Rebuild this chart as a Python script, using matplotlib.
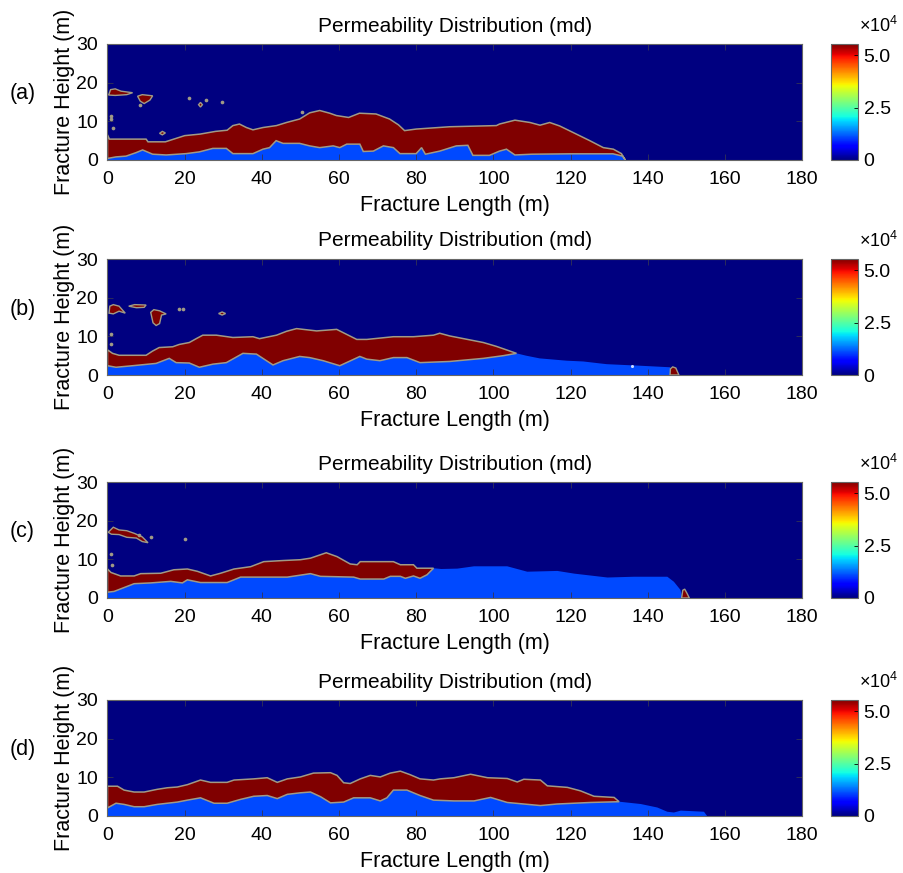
import numpy as np
import matplotlib
matplotlib.use('Agg')
import matplotlib.pyplot as plt
from matplotlib import cm, colors

plt.rcParams['font.family'] = ['Liberation Sans', 'DejaVu Sans']
plt.rcParams['mathtext.fontset'] = 'custom'
plt.rcParams['mathtext.rm'] = 'Liberation Sans'

# ---------------- data (m, md) ----------------
K_MAX = 5.55e4          # colour-scale top
K_PROP = 5.55e4         # proppant pack permeability (dark red)
K_LOW = 1.1e4           # settled bank permeability (light blue)
CB_TICKS = [0, 2.5e4, 5.0e4]
CB_LABELS = ['0', '2.5', '5.0']
X_TICKS = [0, 20, 40, 60, 80, 100, 120, 140, 160, 180]
Y_TICKS = [0, 10, 20, 30]
PANEL_LABELS = ['(a)', '(b)', '(c)', '(d)']

# panel (a)
a_top_x = [0, 0.5, 10, 10.5, 15, 17.8, 20, 24, 28, 31, 32.5, 34.2, 36, 37.7, 40.3, 43.8, 46.4, 49.8, 52.4, 55,
           57.6, 59.3, 62.5, 65.3, 69.6, 73.1, 75.4, 77, 80, 88.7, 100.8, 101.6, 105.6, 109.5, 112.1, 114.6,
           117.2, 120.7, 125, 128.5, 131.1, 133.2, 134.2]
a_top_y = [6.5, 5.4, 5.4, 4.7, 4.7, 5.6, 6.3, 6.7, 7.4, 7.7, 8.9, 9.3, 8.4, 7.8, 8.4, 8.9, 9.7, 10.6, 12.2, 12.8,
           12.1, 11.5, 11.0, 12.1, 11.9, 10.6, 9.1, 7.6, 8.0, 8.6, 8.9, 9.3, 10.3, 9.7, 9.0, 9.7,
           8.8, 7.1, 5.0, 3.2, 2.8, 1.65, 0.0]
a_bot_x = [0, 2.2, 4.8, 7.4, 9.1, 11.7, 15.2, 20.4, 23.8, 27.3, 30.8, 32.5, 37.7, 40.3, 42, 43.7, 45.5, 49.8,
           52.4, 55, 58.5, 60.2, 62, 65.4, 66.3, 68.9, 71.5, 74.1, 75.8, 80, 81.4, 82.4, 86.1, 90.4, 93.4,
           94.7, 99, 101.6, 103.4, 105.6, 110, 120, 131, 133.5, 134.2]
a_bot_y = [0.4, 0.8, 1.0, 1.9, 2.6, 1.5, 1.3, 1.65, 2.1, 3.0, 3.0, 1.65, 1.65, 2.8, 3.2, 5.0, 4.3, 4.3,
           3.65, 3.2, 3.65, 3.2, 4.1, 4.1, 2.2, 2.3, 3.65, 3.2, 1.65, 1.65, 3.2, 1.5, 2.3, 3.65, 3.8,
           1.2, 1.2, 2.3, 2.8, 1.3, 1.5, 1.6, 1.6, 1.0, 0.0]
a_tail_x = [134.2]
a_tail_y = [0.0]
a_blobs_x = [[0.3, 0.8, 2.0, 3.5, 6.5, 5.0, 2.0], [7.8, 9.0, 11.7, 11.0, 9.5, 8.5],
             [13.5, 14.2, 15.0, 14.2], [23.6, 24.1, 24.6, 24.1]]
a_blobs_y = [[16.8, 18.2, 18.4, 17.8, 17.4, 16.9, 16.7], [16.5, 16.9, 16.6, 15.5, 14.6, 15.2],
             [6.9, 7.4, 7.0, 6.5], [14.3, 14.9, 14.3, 13.7]]
a_dots_x = [21.0, 25.6, 29.7, 0.9, 0.9, 1.4, 50.5, 8.4]
a_dots_y = [16.0, 15.6, 15.0, 10.6, 11.4, 8.4, 12.5, 14.1]

# panel (b)
b_top_x = [0, 1.3, 3, 10, 11.7, 13.4, 16.9, 18.6, 21.2, 23, 24.7, 28.2, 32.5, 37.7, 39.4, 43.8, 46.4, 49,
           54.2, 59.4, 62, 64.6, 67.2, 74.1, 79.3, 84.5, 86.1, 88.7, 97.4, 100.8, 103.4, 106]
b_top_y = [6.5, 5.6, 5.1, 5.1, 6.2, 7.1, 7.3, 7.9, 8.4, 9.4, 10.3, 10.3, 9.7, 9.9, 9.4, 10.3, 11.3, 12.0,
           11.4, 11.8, 10.5, 9.2, 9.2, 9.9, 9.9, 10.3, 10.8, 10.1, 8.4, 7.4, 6.5, 5.6]
b_bot_x = [0, 2.2, 6.5, 12.6, 16, 17.8, 21.2, 23.8, 27.3, 30.8, 35.1, 38.6, 41.2, 42.9, 45.5, 49.8, 52.4,
           55.9, 60.2, 65.4, 67.2, 70.6, 74.1, 77.6, 81, 88.7, 97.4, 102.6, 106]
b_bot_y = [2.4, 2.0, 2.4, 3.0, 4.3, 3.2, 3.1, 2.0, 2.8, 3.2, 5.6, 5.4, 3.7, 2.6, 3.7, 4.8, 4.5,
           3.7, 2.4, 4.8, 4.1, 3.7, 4.5, 4.5, 3.2, 3.5, 4.3, 5.0, 5.6]
b_tail_x = [108.5, 112, 119, 123.3, 127.6, 129.4, 138, 145.8, 146.0]
b_tail_y = [5.0, 4.3, 3.7, 3.5, 3.0, 2.8, 2.4, 2.0, 0.0]
b_blobs_x = [[0.4, 0.6, 1.5, 3.0, 4.6, 3.0, 1.5], [5.5, 7.0, 10.0, 9.5, 7.5],
             [11.2, 12.0, 13.5, 15.2, 14.0, 13.5, 12.6, 11.8], [28.8, 29.7, 30.6, 29.7],
             [145.8, 145.9, 146.5, 147.3, 148.1]]
b_blobs_y = [[16.0, 17.8, 18.2, 17.8, 16.0, 16.5, 15.8], [17.8, 18.2, 18.1, 17.5, 17.4],
             [16.2, 16.9, 16.6, 15.8, 15.5, 13.3, 12.8, 13.5], [15.9, 16.3, 15.9, 15.5],
             [0.0, 1.6, 2.1, 1.8, 0.0]]
b_dots_x = [18.5, 19.5, 0.9, 1.0]
b_dots_y = [17.1, 17.1, 10.5, 7.9]
b_white_x = [136.0]
b_white_y = [2.4]

# panel (c)
c_top_x = [0, 0.9, 3.4, 6.9, 8.6, 13.8, 17.2, 20.7, 23.3, 26.7, 29.3, 32.8, 37.1, 40.5, 45.7, 50, 52.6, 56.7,
           59.5, 62.9, 64.7, 65.5, 74.1, 75.9, 79.3, 80.2, 84.5]
c_top_y = [7.5, 6.6, 5.7, 5.7, 6.3, 6.4, 7.3, 7.5, 6.9, 5.7, 6.4, 7.5, 8.1, 9.4, 9.7, 9.9, 10.3, 11.7,
           10.7, 8.8, 8.6, 9.4, 9.4, 8.6, 8.6, 7.7, 7.7]
c_bot_x = [0, 1.7, 6.9, 11.2, 16.4, 19.4, 20.7, 24.1, 31, 34.5, 46.6, 52.6, 55.2, 63.8, 65.5, 71.6, 73.3,
           75.9, 77.2, 79.3, 81, 82.8, 84.5]
c_bot_y = [1.5, 1.7, 3.7, 3.9, 4.3, 3.9, 4.7, 4.0, 4.0, 5.4, 5.4, 6.3, 5.6, 5.4, 4.9, 4.9, 5.6,
           5.6, 5.1, 5.7, 5.1, 6.0, 7.7]
c_tail_x = [86.5, 90.7, 95, 103.6, 108.8, 116.6, 121, 129.6, 136.5, 145.1, 146.8, 148.5, 149.0]
c_tail_y = [7.5, 7.6, 8.2, 8.2, 6.8, 7.0, 6.3, 5.3, 5.5, 5.5, 4.2, 2.1, 0.0]
c_blobs_x = [[0.2, 1.5, 3.0, 5.0, 7.0, 9.0, 10.5, 9.0, 7.5, 5.0, 3.0, 1.0],
             [148.8, 149.1, 149.6, 150.2, 150.8]]
c_blobs_y = [[17.0, 18.3, 17.6, 17.4, 16.7, 15.8, 14.3, 14.6, 15.5, 15.7, 16.4, 16.5],
             [0.0, 2.0, 2.3, 1.2, 0.0]]
c_dots_x = [8.2, 11.2, 20.0, 1.0, 1.2]
c_dots_y = [16.4, 15.9, 15.2, 11.4, 8.5]

# panel (d)
d_top_x = [0, 2.6, 4.3, 6.9, 9.5, 12.9, 15.5, 18.1, 20.7, 24.1, 26.7, 31, 32.8, 37.9, 41.4, 44, 46.6, 50,
           53.4, 57.8, 59.5, 61.2, 62.9, 65.5, 68.1, 70.7, 73.3, 75.9, 78.4, 81, 84.5, 86.2, 89.8, 94.1,
           98.5, 103.6, 106.2, 107.9, 112.2, 114, 119.2, 122.6, 126.1, 131.3, 132.6]
d_top_y = [7.7, 7.7, 6.7, 6.2, 6.2, 6.9, 7.3, 7.5, 8.1, 9.3, 8.7, 8.7, 9.3, 9.6, 9.9, 8.7, 9.6, 10.1,
           11.1, 11.2, 10.5, 8.6, 8.4, 9.6, 10.5, 10.1, 11.1, 11.6, 10.7, 9.6, 9.3, 9.6, 9.9, 10.8,
           9.9, 9.7, 8.8, 9.5, 9.3, 7.8, 7.4, 6.5, 5.1, 4.8, 3.7]
d_bot_x = [0, 2.2, 4.3, 6.9, 9.5, 12.9, 18.1, 20.7, 24.1, 27.6, 31, 34.5, 37.9, 41.4, 44, 46.6, 50, 52.6,
           55.2, 57.8, 61.2, 63.8, 68.1, 70.7, 72.4, 74.1, 77.6, 81, 84.5, 89.8, 95, 99.3, 103.6, 112.2,
           116.5, 125.2, 132.6]
d_bot_y = [2.1, 3.3, 3.0, 2.4, 2.4, 3.0, 3.6, 4.1, 4.7, 3.3, 3.3, 4.3, 5.1, 5.3, 4.5, 5.6, 6.0, 6.2,
           5.0, 3.4, 3.6, 4.7, 4.7, 3.9, 4.7, 6.7, 6.7, 5.3, 4.1, 3.9, 3.9, 4.8, 3.5, 2.7,
           3.1, 3.5, 3.7]
d_tail_x = [138.2, 142.5, 145.1, 146.8, 148.6, 154.6, 155.4]
d_tail_y = [3.1, 2.2, 1.1, 0.9, 1.4, 1.1, 0.0]
d_blobs_x = []
d_blobs_y = []
d_dots_x = []
d_dots_y = []

# ---------------- drawing ----------------
W, H = 904, 873
fig = plt.figure(figsize=(W / 100, H / 100), dpi=100)
cmap = plt.get_cmap('jet')
norm = colors.Normalize(vmin=0, vmax=K_MAX)
EDGE = '#a09a86'

panels = [
    (a_top_x, a_top_y, a_bot_x, a_bot_y, a_tail_x, a_tail_y, a_blobs_x, a_blobs_y, a_dots_x, a_dots_y),
    (b_top_x, b_top_y, b_bot_x, b_bot_y, b_tail_x, b_tail_y, b_blobs_x, b_blobs_y, b_dots_x, b_dots_y),
    (c_top_x, c_top_y, c_bot_x, c_bot_y, c_tail_x, c_tail_y, c_blobs_x, c_blobs_y, c_dots_x, c_dots_y),
    (d_top_x, d_top_y, d_bot_x, d_bot_y, d_tail_x, d_tail_y, d_blobs_x, d_blobs_y, d_dots_x, d_dots_y),
]
tops = [44, 259, 482, 700]
AX_L, AX_W, AX_H = 107.5, 694.5, 116
CB_L, CB_W = 831, 27

for i, (tx, ty, bx, by, lx, ly, blx, bly, dx, dy) in enumerate(panels):
    top = tops[i]
    ax = fig.add_axes([AX_L / W, 1 - (top + AX_H) / H, AX_W / W, AX_H / H])
    cax = fig.add_axes([CB_L / W, 1 - (top + AX_H) / H, CB_W / W, AX_H / H])
    ax.set_facecolor(cmap(norm(0)))

    # light-blue settled bank: ground line, lower pack boundary, then tail
    blue_x = [0] + list(bx) + list(lx)
    blue_y = [0] + list(by) + list(ly)
    ax.fill(blue_x, blue_y, color=cmap(norm(K_LOW)), lw=0, zorder=1)
    # proppant pack
    red_x = list(tx) + list(bx)[::-1]
    red_y = list(ty) + list(by)[::-1]
    ax.fill(red_x, red_y, facecolor=cmap(norm(K_PROP)), edgecolor=EDGE, lw=1.1, zorder=2)
    for bxs, bys in zip(blx, bly):
        ax.fill(bxs, bys, facecolor=cmap(norm(K_PROP)), edgecolor=EDGE, lw=1.0, zorder=3)
    if len(dx):
        ax.scatter(dx, dy, s=7, color=EDGE, lw=0, zorder=4)
    if i == 1:
        ax.scatter(b_white_x, b_white_y, s=5, color='#c8d8ff', lw=0, zorder=4)

    ax.set_xlim(0, 180)
    ax.set_ylim(0, 30)
    ax.set_xticks(X_TICKS)
    ax.set_yticks(Y_TICKS)
    ax.tick_params(direction='in', top=True, right=True, length=4, width=0.6,
                   color='#333355', labelsize=14)
    ax.tick_params(axis='x', pad=8)
    ax.tick_params(axis='y', pad=7)
    for s in ax.spines.values():
        s.set_color('#666666')
        s.set_linewidth(0.8)
    ax.set_title('Permeability Distribution (md)', fontsize=15, pad=9)
    ax.set_xlabel('Fracture Length (m)', fontsize=15.5, labelpad=5)
    ax.set_ylabel('Fracture Height (m)', fontsize=15.5, labelpad=1)

    sm = cm.ScalarMappable(norm=norm, cmap=cmap)
    cb = fig.colorbar(sm, cax=cax, ticks=CB_TICKS)
    cb.ax.set_yticklabels(CB_LABELS)
    cb.ax.tick_params(labelsize=14, direction='in', length=3, width=0.6, pad=4)
    cb.outline.set_edgecolor('#666666')
    cb.outline.set_linewidth(0.8)
    cax.text(1.05, 1.07, r'$\times$10$^{4}$', transform=cax.transAxes, fontsize=13,
             ha='left', va='bottom')

    fig.text(10 / W, 1 - (top + AX_H / 2 - 8) / H, PANEL_LABELS[i], fontsize=15.5,
             ha='left', va='center')

fig.savefig('out.png', dpi=100)
